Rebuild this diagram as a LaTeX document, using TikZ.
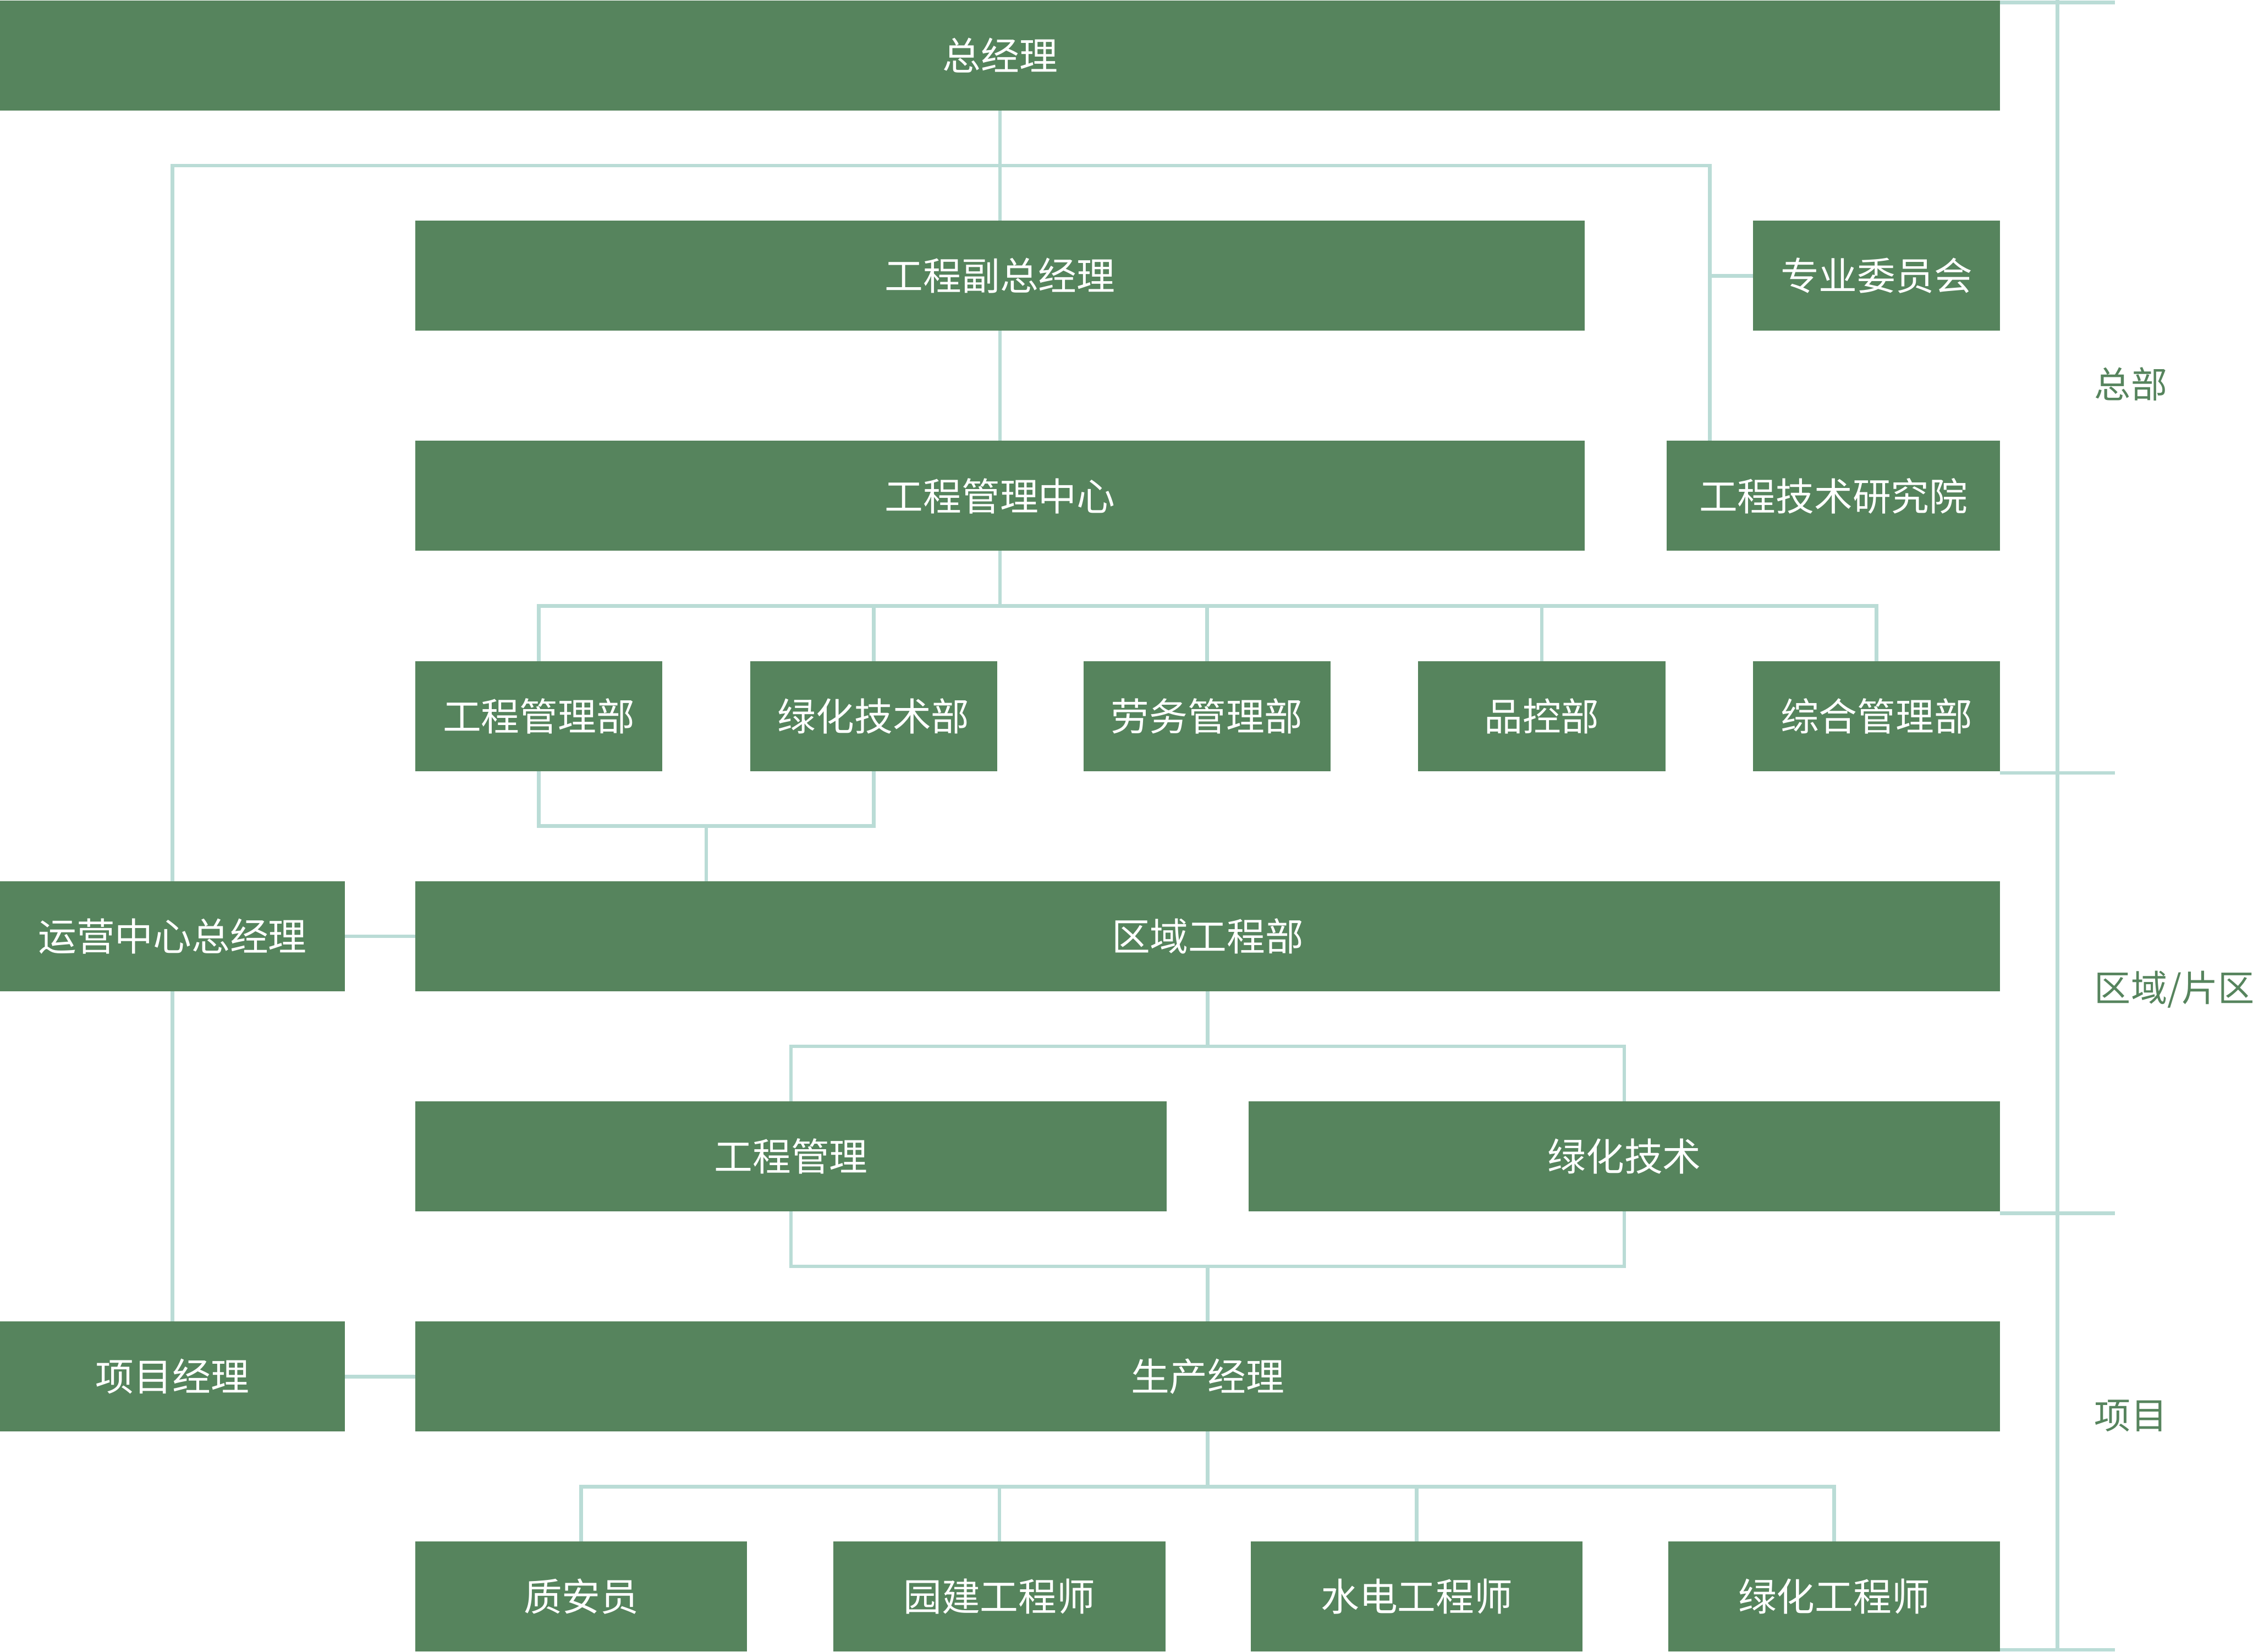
\documentclass[tikz,border=0pt]{standalone}
\usepackage{fontspec}
\usepackage{tikz}
\usetikzlibrary{calc}
\newfontfamily\cjk{Noto Sans CJK SC}
\definecolor{lvse}{RGB}{86,132,93}
\definecolor{qianlan}{RGB}{186,220,214}

\begin{document}
\begin{tikzpicture}[
        kuang/.style={rectangle, fill=lvse, text=white, inner sep=0pt, outer sep=0pt,
            minimum height=0.766cm, font=\cjk\fontsize{7.6}{9}\selectfont},
        xian/.style={draw=qianlan, line width=0.72pt},
        biaoqian/.style={anchor=west, inner sep=0pt, text=lvse, font=\cjk\fontsize{7.2}{9}\selectfont}]
        \useasboundingbox (0,0) rectangle (15.68,11.494);

        % 总部
        \node[kuang, minimum width=13.92cm] (zjl) at (6.96,11.107) {总经理};
        \node[kuang, minimum width=8.14cm] (fzjl) at (6.96,9.575) {工程副总经理};
        \node[kuang, minimum width=1.72cm] (zywyh) at (13.06,9.575) {专业委员会};
        \node[kuang, minimum width=8.14cm] (glzx) at (6.96,8.043) {工程管理中心};
        \node[kuang, minimum width=2.32cm] (yjy) at (12.76,8.043) {工程技术研究院};

        % 各部门
        \node[kuang, minimum width=1.72cm] (bu1) at (3.75,6.511) {工程管理部};
        \node[kuang, minimum width=1.72cm] (bu2) at (6.08,6.511) {绿化技术部};
        \node[kuang, minimum width=1.72cm] (bu3) at (8.40,6.511) {劳务管理部};
        \node[kuang, minimum width=1.72cm] (bu4) at (10.73,6.511) {品控部};
        \node[kuang, minimum width=1.72cm] (bu5) at (13.06,6.511) {综合管理部};

        % 区域/片区
        \node[kuang, minimum width=2.40cm] (yyzx) at (1.20,4.979) {运营中心总经理};
        \node[kuang, minimum width=11.03cm] (qybu) at (8.405,4.979) {区域工程部};
        \node[kuang, minimum width=5.23cm] (gcgl) at (5.505,3.447) {工程管理};
        \node[kuang, minimum width=5.23cm] (lhjs) at (11.305,3.447) {绿化技术};

        % 项目
        \node[kuang, minimum width=2.40cm] (xmjl) at (1.20,1.915) {项目经理};
        \node[kuang, minimum width=11.03cm] (scjl) at (8.405,1.915) {生产经理};
        \node[kuang, minimum width=2.31cm] (zy1) at (4.045,0.383) {质安员};
        \node[kuang, minimum width=2.31cm] (zy2) at (6.955,0.383) {园建工程师};
        \node[kuang, minimum width=2.31cm] (zy3) at (9.86,0.383) {水电工程师};
        \node[kuang, minimum width=2.31cm] (zy4) at (12.765,0.383) {绿化工程师};

        % 连线
        \coordinate (zhe) at (11.90,10.341);
        \draw[xian] (zjl.south) -- (fzjl.north);
        \draw[xian] (fzjl.south) -- (glzx.north);
        \draw[xian] (yyzx.north) |- (zhe) -- (zhe |- yjy.north);
        \draw[xian] (zhe |- zywyh.west) -- (zywyh.west);
        \draw[xian] (yyzx.south) -- (xmjl.north);
        \foreach \n in {bu1,bu2,bu3,bu4,bu5}
            \draw[xian] (\n.north) -- ++(0,0.383) -| (glzx.south);
        \draw[xian] (bu1.south) -- ++(0,-0.383) -| (bu2.south);
        \coordinate (he) at ($(bu1.south)!0.5!(bu2.south)+(0,-0.383)$);
        \draw[xian] (he) -- (he |- qybu.north);
        \draw[xian] (yyzx.east) -- (qybu.west);
        \foreach \n in {gcgl,lhjs}
            \draw[xian] (\n.north) -- ++(0,0.383) -| (qybu.south);
        \draw[xian] (gcgl.south) -- ++(0,-0.383) -| (lhjs.south);
        \draw[xian] (scjl.north) -- ++(0,0.383);
        \draw[xian] (xmjl.east) -- (scjl.west);
        \foreach \n in {zy1,zy2,zy3,zy4}
            \draw[xian] (\n.north) -- ++(0,0.383) -| (scjl.south);

        % 右侧分区线
        \coordinate (you) at (14.32,11.494);
        \draw[xian] (you) -- (you |- zy4.south);
        \draw[xian] ([yshift=-0.36pt]zjl.north east) -- ++(0.8,0);
        \draw[xian] ([yshift=-0.36pt]bu5.south east) -- ++(0.8,0);
        \draw[xian] ([yshift=-0.36pt]lhjs.south east) -- ++(0.8,0);
        \draw[xian] ([yshift=0.36pt]zy4.south east) -- ++(0.8,0);

        \node[biaoqian] (zb) at (14.57,8.82) {总部};
        \node[biaoqian] (qy) at (14.57,4.61) {区域/片区};
        \node[biaoqian] (xm) at (14.57,1.64) {项目};
    \end{tikzpicture}
\end{document}
